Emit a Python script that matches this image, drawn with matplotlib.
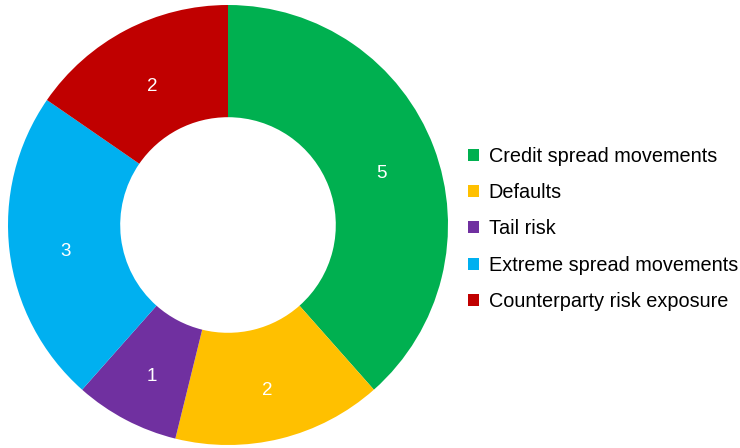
import matplotlib
matplotlib.use("Agg")
import matplotlib.pyplot as plt
from matplotlib.patches import Patch

plt.rcParams["font.family"] = ["Liberation Sans", "DejaVu Sans"]

categories = ["Credit spread movements", "Defaults", "Tail risk",
              "Extreme spread movements", "Counterparty risk exposure"]
values = [5, 2, 1, 3, 2]
colors = ["#00B050", "#FFC000", "#7030A0", "#00B0F0", "#C00000"]

W, H = 740, 448
fig = plt.figure(figsize=(W / 100, H / 100), dpi=100)
# donut: centre (228, 225) px, outer radius 220 px
cx, cy, r = 228, 225, 220
ax = fig.add_axes([(cx - r) / W, (H - cy - r) / H, 2 * r / W, 2 * r / H])
wedges, texts = ax.pie(values, colors=colors, startangle=90, counterclock=False,
                       radius=1.0, wedgeprops=dict(width=0.51, edgecolor="none"),
                       labels=[str(v) for v in values], labeldistance=0.745,
                       textprops=dict(color="white", fontsize=13.5, ha="center", va="center"))
for t in texts:
    x, y = t.get_position()
    t.set_position((x, y - 0.03))
ax.set_xlim(-1, 1)
ax.set_ylim(-1, 1)
ax.set_aspect("equal")
ax.axis("off")

handles = [Patch(facecolor=c, edgecolor="none") for c in colors]
fig.legend(handles, categories, loc="center left", bbox_to_anchor=(468 / W, 1 - 229 / H),
           frameon=False, fontsize=14.3, handlelength=0.55, handleheight=0.55,
           handletextpad=0.5, labelspacing=0.87, borderaxespad=0, borderpad=0)

fig.savefig("out.png", dpi=100)
